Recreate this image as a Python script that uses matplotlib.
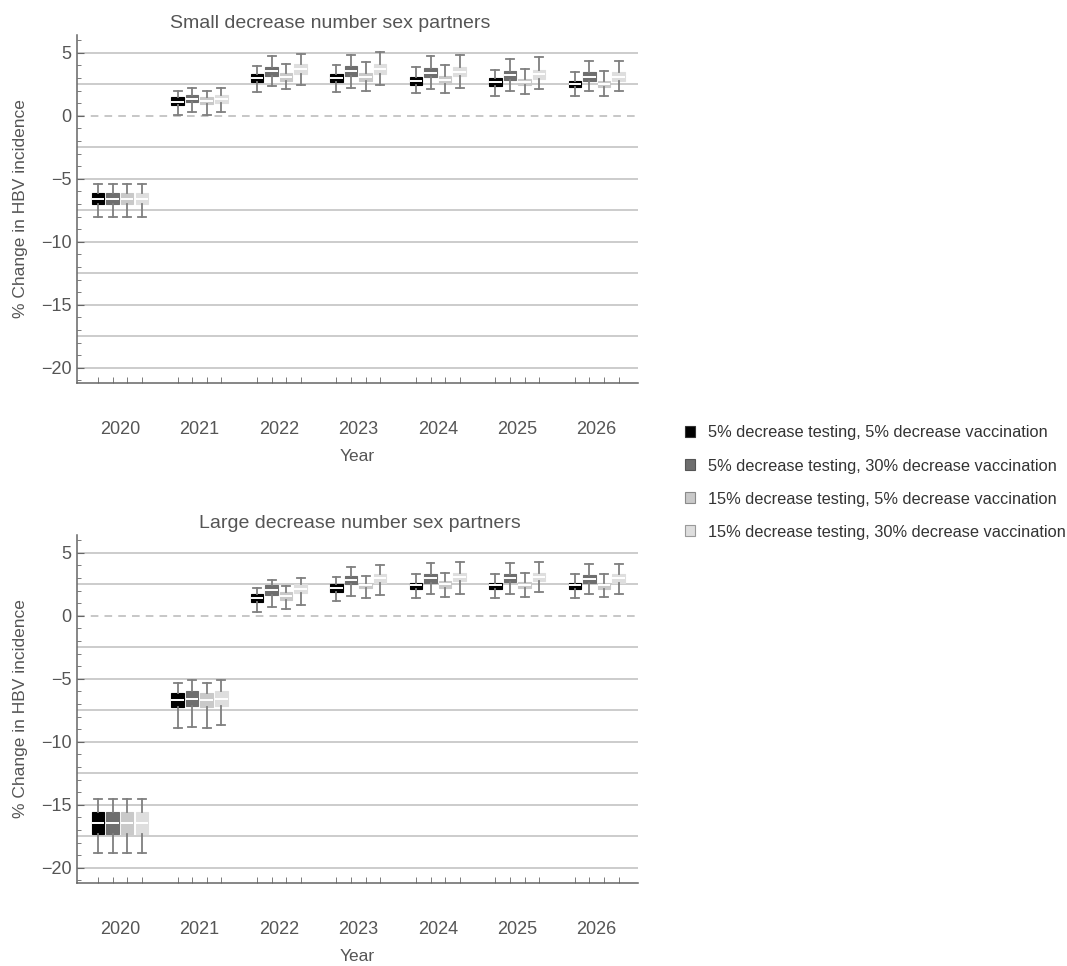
import matplotlib
matplotlib.use("Agg")
import matplotlib.pyplot as plt
from matplotlib.patches import Patch
from matplotlib.ticker import MultipleLocator

plt.rcParams['font.family'] = ['Liberation Sans', 'DejaVu Sans']

years = ['2020', '2021', '2022', '2023', '2024', '2025', '2026']
series_labels = ['5% decrease testing, 5% decrease vaccination',
                 '5% decrease testing, 30% decrease vaccination',
                 '15% decrease testing, 5% decrease vaccination',
                 '15% decrease testing, 30% decrease vaccination']
panel_titles = ['Small decrease number sex partners',
                'Large decrease number sex partners']

# small decrease: one row per scenario, one value per year
small_lo = [[-8.0, 0.08, 1.90, 1.90, 1.80, 1.59, 1.59],
            [-8.0, 0.32, 2.33, 2.20, 2.12, 2.00, 1.93],
            [-8.0, 0.08, 2.12, 2.00, 1.80, 1.72, 1.59],
            [-8.0, 0.32, 2.43, 2.41, 2.20, 2.12, 1.93]]
small_q1 = [[-7.0, 0.85, 2.65, 2.65, 2.43, 2.33, 2.28],
            [-7.0, 1.06, 3.17, 3.17, 3.04, 2.86, 2.72],
            [-7.0, 0.95, 2.72, 2.72, 2.54, 2.41, 2.25],
            [-7.0, 1.00, 3.30, 3.33, 3.12, 2.94, 2.72]]
small_med = [[-6.6, 1.13, 2.96, 2.96, 2.72, 2.67, 2.51],
             [-6.6, 1.35, 3.52, 3.55, 3.41, 3.20, 3.10],
             [-6.6, 1.20, 3.04, 3.05, 2.86, 2.67, 2.48],
             [-6.6, 1.35, 3.70, 3.70, 3.49, 3.30, 3.10]]
small_q3 = [[-6.1, 1.45, 3.30, 3.30, 3.04, 2.99, 2.78],
            [-6.1, 1.67, 3.86, 3.97, 3.75, 3.57, 3.44],
            [-6.1, 1.45, 3.39, 3.39, 3.17, 2.94, 2.72],
            [-6.1, 1.67, 4.07, 4.07, 3.86, 3.65, 3.44]]
small_hi = [[-5.4, 1.93, 3.91, 4.05, 3.84, 3.60, 3.44],
            [-5.4, 2.20, 4.76, 4.84, 4.71, 4.50, 4.31],
            [-5.4, 2.00, 4.13, 4.23, 4.02, 3.73, 3.52],
            [-5.4, 2.20, 4.92, 5.03, 4.81, 4.63, 4.31]]

# large decrease
large_lo = [[-18.8, -8.89, 0.26, 1.19, 1.39, 1.39, 1.39],
            [-18.8, -8.83, 0.71, 1.55, 1.76, 1.76, 1.76],
            [-18.8, -8.89, 0.50, 1.39, 1.50, 1.50, 1.45],
            [-18.8, -8.70, 0.87, 1.66, 1.76, 1.92, 1.76]]
large_q1 = [[-17.3, -7.25, 1.10, 1.92, 2.16, 2.16, 2.16],
            [-17.3, -7.17, 1.66, 2.50, 2.63, 2.70, 2.63],
            [-17.3, -7.25, 1.26, 2.18, 2.24, 2.24, 2.16],
            [-17.3, -7.17, 1.82, 2.63, 2.77, 2.77, 2.63]]
large_med = [[-16.4, -6.72, 1.42, 2.21, 2.40, 2.40, 2.40],
             [-16.4, -6.59, 2.06, 2.81, 2.97, 3.00, 2.92],
             [-16.4, -6.67, 1.60, 2.42, 2.50, 2.47, 2.40],
             [-16.4, -6.59, 2.16, 2.97, 3.10, 3.10, 2.97]]
large_q3 = [[-15.6, -6.12, 1.71, 2.50, 2.63, 2.63, 2.63],
            [-15.6, -5.96, 2.42, 3.13, 3.29, 3.29, 3.24],
            [-15.6, -6.12, 1.92, 2.63, 2.77, 2.70, 2.63],
            [-15.6, -5.96, 2.50, 3.29, 3.42, 3.42, 3.29]]
large_hi = [[-14.5, -5.32, 2.18, 3.08, 3.29, 3.29, 3.29],
            [-14.5, -5.09, 2.81, 3.87, 4.16, 4.16, 4.08],
            [-14.5, -5.32, 2.37, 3.16, 3.37, 3.37, 3.29],
            [-14.5, -5.09, 2.97, 4.00, 4.29, 4.29, 4.08]]

colors = ['#000000', '#6e6e6e', '#c9c9c9', '#dedede']
legend_edges = ['#333333', '#555555', '#8a8a8a', '#9a9a9a']
offsets = [-0.275, -0.092, 0.092, 0.275]
title_x = [0.452, 0.505]
txt = '#555555'

fig = plt.figure(figsize=(10.67, 9.66), dpi=100)
ax_top = fig.add_axes([0.0722, 0.6035, 0.5258, 0.3602])
ax_bot = fig.add_axes([0.0722, 0.0859, 0.5258, 0.3602])

panels = [(ax_top, small_lo, small_q1, small_med, small_q3, small_hi),
          (ax_bot, large_lo, large_q1, large_med, large_q3, large_hi)]

for i, (ax, lo, q1, med, q3, hi) in enumerate(panels):
    for g in [-20, -17.5, -15, -12.5, -10, -7.5, -5, -2.5, 2.5, 5]:
        ax.axhline(g, color='#c8c8c8', lw=1.3, zorder=0)
    ax.axhline(0, color='#b8b8b8', lw=1.1, ls=(0, (5, 4)), zorder=0)

    minor_pos = []
    for s in range(4):
        stats = []
        pos = []
        for y in range(len(years)):
            stats.append({'whislo': lo[s][y], 'q1': q1[s][y], 'med': med[s][y],
                          'q3': q3[s][y], 'whishi': hi[s][y], 'fliers': []})
            pos.append(y + offsets[s])
        minor_pos += pos
        ax.bxp(stats, positions=pos, widths=0.157, capwidths=0.1,
               patch_artist=True, showfliers=False, manage_ticks=False,
               boxprops=dict(facecolor=colors[s], edgecolor=colors[s], lw=0.8),
               medianprops=dict(color='white', lw=1.4),
               whiskerprops=dict(color='#7f7f7f', lw=1.3),
               capprops=dict(color='#7f7f7f', lw=1.3))

    ax.set_xlim(-0.54, 6.52)
    ax.set_ylim(-21.2, 6.4)
    ax.set_xticks(range(len(years)))
    ax.set_xticklabels(years)
    ax.set_xticks(minor_pos, minor=True)
    ax.tick_params(axis='x', which='major', length=0, pad=27, labelsize=13, labelcolor=txt)
    ax.tick_params(axis='x', which='minor', direction='in', length=4, color='#666666')
    ax.set_yticks([-20, -15, -10, -5, 0, 5])
    ax.yaxis.set_minor_locator(MultipleLocator(1))
    ax.tick_params(axis='y', which='major', direction='in', length=5, pad=4,
                   labelsize=13, labelcolor=txt, color='#666666')
    ax.tick_params(axis='y', which='minor', direction='in', length=3, color='#666666')
    for sp in ['top', 'right']:
        ax.spines[sp].set_visible(False)
    for sp in ['left', 'bottom']:
        ax.spines[sp].set_color('#666666')
        ax.spines[sp].set_linewidth(1.1)
    ax.set_xlabel('Year', fontsize=12.5, color=txt, labelpad=8)
    ax.set_ylabel('% Change in HBV incidence', fontsize=12.5, color=txt, labelpad=9)
    ax.set_title(panel_titles[i], fontsize=14, color=txt, pad=5, x=title_x[i])

handles = [Patch(facecolor=colors[s], edgecolor=legend_edges[s], lw=0.8) for s in range(4)]
fig.legend(handles, series_labels, loc='center left', bbox_to_anchor=(0.634, 0.5005),
           frameon=False, fontsize=11.8, labelcolor='#333333', handlelength=0.65,
           handleheight=0.65, handletextpad=0.75, labelspacing=1.1, borderpad=0)

fig.savefig('out.png', dpi=100)
